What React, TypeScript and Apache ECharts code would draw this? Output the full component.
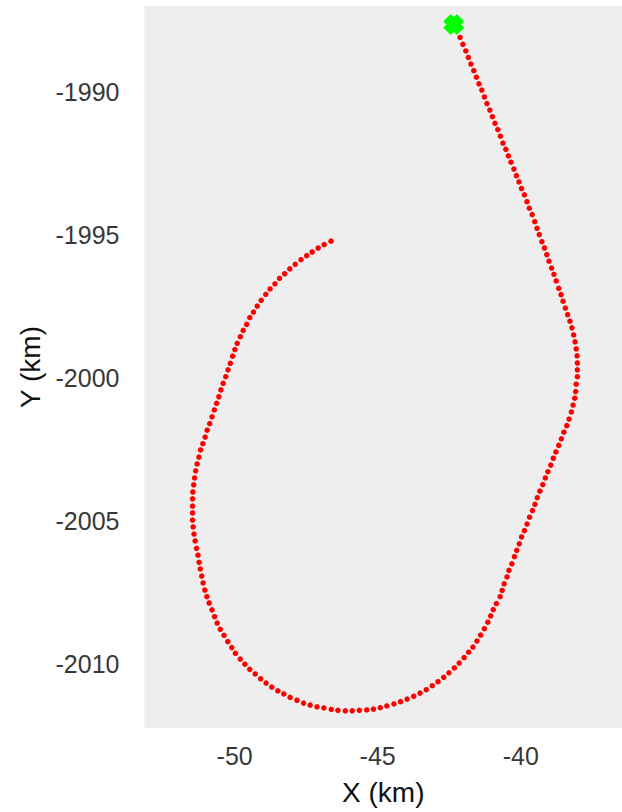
import React, { useEffect, useRef } from "react";
import * as echarts from "echarts";

// Track positions (km), ordered from the start marker
const trackX: number[] = [
  -42.12, -42.02, -41.92, -41.83, -41.74, -41.64, -41.55, -41.46, -41.36, -41.27,
  -41.18, -41.08, -40.99, -40.90, -40.80, -40.71, -40.62, -40.52, -40.43, -40.34,
  -40.24, -40.15, -40.06, -39.97, -39.87, -39.78, -39.70, -39.60, -39.51, -39.43,
  -39.35, -39.26, -39.17, -39.09, -39.01, -38.92, -38.84, -38.76, -38.67, -38.59,
  -38.52, -38.44, -38.36, -38.28, -38.21, -38.15, -38.10, -38.06, -38.03, -38.02,
  -38.02, -38.02, -38.06, -38.08, -38.11, -38.17, -38.23, -38.31, -38.39, -38.49,
  -38.58, -38.67, -38.77, -38.86, -38.95, -39.05, -39.14, -39.23, -39.33, -39.42,
  -39.50, -39.59, -39.69, -39.78, -39.87, -39.97, -40.05, -40.14, -40.22, -40.31,
  -40.41, -40.48, -40.58, -40.65, -40.72, -40.85, -40.96, -41.05, -41.15, -41.27,
  -41.40, -41.53, -41.67, -41.82, -41.98, -42.15, -42.32, -42.51, -42.69, -42.89,
  -43.09, -43.30, -43.52, -43.74, -43.97, -44.20, -44.43, -44.68, -44.91, -45.15,
  -45.38, -45.64, -45.89, -46.13, -46.39, -46.62, -46.88, -47.12, -47.36, -47.59,
  -47.82, -48.06, -48.28, -48.49, -48.70, -48.90, -49.09, -49.28, -49.47, -49.64,
  -49.80, -49.97, -50.10, -50.24, -50.37, -50.50, -50.61, -50.70, -50.79, -50.89,
  -50.97, -51.04, -51.10, -51.15, -51.20, -51.24, -51.28, -51.33, -51.38, -51.42,
  -51.45, -51.47, -51.47, -51.47, -51.47, -51.46, -51.43, -51.40, -51.36, -51.31,
  -51.25, -51.19, -51.11, -51.03, -50.96, -50.87, -50.79, -50.71, -50.63, -50.55,
  -50.48, -50.40, -50.31, -50.23, -50.15, -50.07, -49.99, -49.91, -49.80, -49.70,
  -49.58, -49.47, -49.34, -49.21, -49.07, -48.91, -48.76, -48.59, -48.43, -48.25,
  -48.07, -47.88, -47.68, -47.48, -47.29, -47.08, -46.87, -46.63,
];

const trackY: number[] = [
  -1988.09, -1988.33, -1988.56, -1988.79, -1989.02, -1989.25, -1989.48, -1989.71, -1989.93, -1990.17,
  -1990.40, -1990.63, -1990.86, -1991.09, -1991.31, -1991.54, -1991.78, -1992.00, -1992.23, -1992.45,
  -1992.69, -1992.92, -1993.14, -1993.37, -1993.59, -1993.83, -1994.06, -1994.28, -1994.53, -1994.76,
  -1994.98, -1995.23, -1995.45, -1995.68, -1995.91, -1996.15, -1996.37, -1996.60, -1996.86, -1997.08,
  -1997.31, -1997.55, -1997.78, -1998.01, -1998.24, -1998.49, -1998.73, -1998.98, -1999.22, -1999.47,
  -1999.71, -1999.95, -2000.21, -2000.47, -2000.70, -2000.94, -2001.18, -2001.43, -2001.66, -2001.89,
  -2002.12, -2002.35, -2002.58, -2002.80, -2003.04, -2003.27, -2003.49, -2003.72, -2003.95, -2004.18,
  -2004.41, -2004.63, -2004.86, -2005.10, -2005.33, -2005.55, -2005.79, -2006.02, -2006.24, -2006.49,
  -2006.72, -2006.95, -2007.19, -2007.42, -2007.64, -2007.88, -2008.09, -2008.31, -2008.53, -2008.76,
  -2008.98, -2009.19, -2009.40, -2009.58, -2009.77, -2009.96, -2010.13, -2010.30, -2010.46, -2010.61,
  -2010.75, -2010.89, -2011.01, -2011.12, -2011.22, -2011.31, -2011.39, -2011.46, -2011.52, -2011.57,
  -2011.60, -2011.61, -2011.63, -2011.63, -2011.61, -2011.58, -2011.53, -2011.49, -2011.43, -2011.36,
  -2011.26, -2011.16, -2011.04, -2010.93, -2010.80, -2010.66, -2010.51, -2010.34, -2010.18, -2010.00,
  -2009.82, -2009.62, -2009.42, -2009.21, -2008.99, -2008.78, -2008.56, -2008.34, -2008.10, -2007.86,
  -2007.64, -2007.41, -2007.16, -2006.92, -2006.67, -2006.44, -2006.19, -2005.95, -2005.69, -2005.45,
  -2005.20, -2004.96, -2004.71, -2004.47, -2004.22, -2003.98, -2003.73, -2003.49, -2003.24, -2003.00,
  -2002.76, -2002.51, -2002.29, -2002.06, -2001.82, -2001.59, -2001.35, -2001.11, -2000.88, -2000.65,
  -2000.41, -2000.18, -1999.95, -1999.71, -1999.48, -1999.23, -1999.00, -1998.78, -1998.55, -1998.33,
  -1998.12, -1997.88, -1997.69, -1997.48, -1997.28, -1997.07, -1996.88, -1996.70, -1996.51, -1996.35,
  -1996.18, -1996.02, -1995.86, -1995.72, -1995.59, -1995.45, -1995.33, -1995.21,
];

const startX: number[] = [-42.34];
const startY: number[] = [-1987.64];

const xTicks: number[] = [-50, -45, -40];
const yTicks: number[] = [-2010, -2005, -2000, -1995, -1990];

const xRange: number[] = [-53.15, -36.46];
const yRange: number[] = [-2012.23, -1986.99];

const FONT = "'Liberation Sans', Arial, Helvetica, sans-serif";
const CROSS =
  "path://M0,3.5 L3.5,0 L5,1.5 L6.5,0 L10,3.5 L8.5,5 L10,6.5 L6.5,10 L5,8.5 L3.5,10 L0,6.5 L1.5,5 Z";

export default function App() {
  const ref = useRef<HTMLDivElement>(null);

  useEffect(() => {
    if (!ref.current) return;
    const chart = echarts.init(ref.current, undefined, { renderer: "svg" });
    const track = trackX.map((x, i) => [x, trackY[i]]);
    const start = startX.map((x, i) => [x, startY[i]]);
    chart.setOption({
      animation: false,
      backgroundColor: "#ffffff",
      grid: {
        left: 144.5,
        top: 6,
        right: 0,
        bottom: 84,
        show: true,
        backgroundColor: "#eeeeee",
        borderWidth: 0,
        containLabel: false,
        outerBoundsMode: "none",
      },
      xAxis: {
        type: "value",
        min: xRange[0],
        max: xRange[1],
        name: "X (km)",
        nameLocation: "middle",
        nameGap: 50,
        nameTextStyle: { fontFamily: FONT, fontSize: 28, color: "#111111" },
        axisLine: { show: false },
        axisTick: { show: false },
        splitLine: { show: false },
        axisLabel: {
          customValues: xTicks,
          fontFamily: FONT,
          fontSize: 25,
          color: "#383838",
          margin: 15,
          formatter: (v: number) => String(v),
        },
      },
      yAxis: {
        type: "value",
        min: yRange[0],
        max: yRange[1],
        name: "Y (km)",
        nameLocation: "middle",
        nameGap: 100,
        nameTextStyle: { fontFamily: FONT, fontSize: 28, color: "#111111" },
        axisLine: { show: false },
        axisTick: { show: false },
        splitLine: { show: false },
        axisLabel: {
          customValues: yTicks,
          fontFamily: FONT,
          fontSize: 25,
          color: "#383838",
          margin: 25,
          formatter: (v: number) => String(v),
        },
      },
      series: [
        {
          type: "scatter",
          data: track,
          symbol: "circle",
          symbolSize: 5.5,
          itemStyle: { color: "#ff0000", opacity: 1 },
          silent: true,
        },
        {
          type: "scatter",
          data: start,
          symbol: CROSS,
          symbolSize: 21,
          itemStyle: { color: "#00ff00", opacity: 1 },
          z: 3,
          silent: true,
        },
      ],
    });
    return () => chart.dispose();
  }, []);

  return (
    <div
      ref={ref}
      style={{ position: "absolute", left: 0, top: 0, width: 622, height: 812 }}
    />
  );
}
